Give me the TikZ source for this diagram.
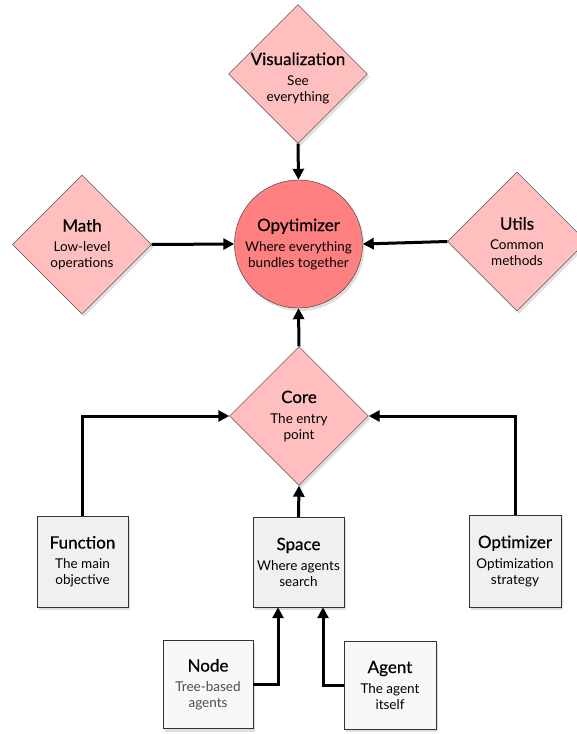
\documentclass[tikz,border=0pt]{standalone}
\usepackage{fontspec}
\setmainfont{Lato}
\newfontfamily\titlefont[FakeBold=0.5]{Lato}
\usepackage{tikz}
\usetikzlibrary{arrows.meta,shapes.geometric,shadows}
\definecolor{diaPink}{HTML}{FFBFBF}
\definecolor{circRed}{HTML}{FF8080}
\definecolor{boxGray}{HTML}{F0F0F0}
\definecolor{boxLight}{HTML}{F8F8F8}
\tikzset{
shade/.style = {drop shadow={shadow xshift=2pt, shadow yshift=-3pt, opacity=0.25}},
dia/.style = {diamond, draw=black!80, fill=diaPink, minimum size=#1,
              inner sep=0pt, shade},
dia/.default = 139pt, % diagonal of the diamond
box/.style = {rectangle, draw=black!80, fill=boxGray, minimum size=#1,
              inner sep=1pt, align=center, shade,
              font=\fontsize{13.5}{16}\selectfont},
box/.default = 91pt, % side of the box
txt/.style = {align=center, inner sep=0pt, font=\fontsize{13.5}{16}\selectfont},
link/.style = {line width=3pt, -{Triangle[length=11pt, width=11pt]}}
}
\newcommand{\ttl}[1]{{\titlefont\fontsize{17}{16}\selectfont #1}\\[4pt]}

\begin{document}
\begin{tikzpicture}[x=1pt, y=-1pt]
  \useasboundingbox (0,0) rectangle (577,734);

  % Diamonds
    \node[dia] (vizDia) at (298,74) {};
    \node[txt] (vizTxt) at ([yshift=-4pt]vizDia) {\ttl{Visualization}See\\everything};
    \node[dia] (mathDia) at (82,244.5) {};
    \node[txt] (mathTxt) at (mathDia) {\ttl{Math}Low-level\\operations};
    \node[dia] (utilsDia) at (517,241.5) {};
    \node[txt] (utilsTxt) at (utilsDia) {\ttl{Utils}Common\\methods};
    \node[dia] (coreDia) at (299,416) {};
    \node[txt] (coreTxt) at (coreDia) {\ttl{Core}The entry\\point};

  % Circle
    \node[circle, draw=black!80, fill=circRed, minimum size=128pt, inner sep=0pt, shade]
      (optCirc) at (298.5,244) {};
    \node[txt] (optTxt) at (optCirc) {\ttl{Opytimizer}Where everything\\bundles together};

  % Boxes
    \node[box] (funcBox) at (82.5,561.5) {\ttl{Function}The main\\objective};
    \node[box, minimum height=90pt] (spaceBox) at (298.5,562) {\ttl{Space}Where agents\\search};
    \node[box=92pt] (optimBox) at (515,561) {\ttl{Optimizer}Optimization\\strategy};
    \node[box=88pt, minimum width=90pt, fill=boxLight] (nodeBox) at (208,684.5)
      {\ttl{Node}\textcolor{black!70}{Tree-based}\\\textcolor{black!70}{agents}};
    \node[box=88pt, minimum width=92pt, fill=boxLight] (agentBox) at (390,685)
      {\ttl{Agent}The agent\\itself};

  % Lines
    \draw[link] (vizDia.south) -- (optCirc.north);
    \draw[link] (mathDia.east) -- (optCirc.west);
    \draw[link] (utilsDia.west) -- (optCirc.east);
    \draw[link] (coreDia.north) -- (optCirc.south);
    \draw[link] (spaceBox.north) -- (coreDia.south);
    \draw[link] (funcBox.north) |- (coreDia.west);
    \draw[link] (optimBox.north) |- (coreDia.east);
    \draw[link] (nodeBox.east) -| ([xshift=-20.5pt]spaceBox.south);
    \draw[link] (agentBox.west) -| ([xshift=24.5pt]spaceBox.south);
  \end{tikzpicture}
\end{document}
